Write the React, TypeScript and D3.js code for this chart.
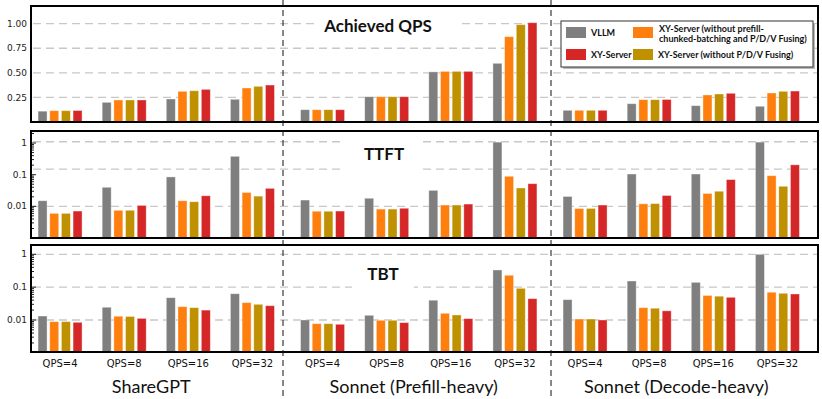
import React from "react";
import * as d3 from "d3";

const sections = ["ShareGPT", "Sonnet (Prefill-heavy)", "Sonnet (Decode-heavy)"];
const qpsLabels = ["QPS=4", "QPS=8", "QPS=16", "QPS=32"];
const seriesKeys = ["vllm", "noChunk", "noFuse", "xy"];
const seriesColors = ["#7f7f7f", "#ff7f0e", "#bf9000", "#d62728"];

// Achieved QPS (12 values: section-major, qps-minor)
const qpsVllm = [0.11, 0.2, 0.234, 0.231, 0.125, 0.257, 0.51, 0.597, 0.119, 0.186, 0.166, 0.16];
const qpsNoChunk = [0.115, 0.224, 0.312, 0.346, 0.125, 0.257, 0.515, 0.868, 0.119, 0.227, 0.275, 0.295];
const qpsNoFuse = [0.115, 0.224, 0.318, 0.363, 0.125, 0.257, 0.515, 0.99, 0.119, 0.227, 0.285, 0.312];
const qpsXy = [0.117, 0.224, 0.332, 0.376, 0.125, 0.257, 0.515, 1.01, 0.119, 0.229, 0.292, 0.315];

// TTFT
const ttftVllm = [0.015, 0.04, 0.085, 0.38, 0.0158, 0.018, 0.032, 1.07, 0.0205, 0.105, 0.105, 1.07];
const ttftNoChunk = [0.006, 0.0075, 0.015, 0.0274, 0.007, 0.0082, 0.011, 0.089, 0.0085, 0.012, 0.0255, 0.093];
const ttftNoFuse = [0.006, 0.0075, 0.014, 0.021, 0.007, 0.0082, 0.011, 0.038, 0.0086, 0.0122, 0.03, 0.043];
const ttftXy = [0.0071, 0.0107, 0.0216, 0.037, 0.0071, 0.0087, 0.0118, 0.052, 0.011, 0.022, 0.07, 0.205];

// TBT
const tbtVllm = [0.0132, 0.0244, 0.0477, 0.063, 0.01, 0.0139, 0.04, 0.333, 0.0416, 0.154, 0.14, 1.0];
const tbtNoChunk = [0.0089, 0.013, 0.0254, 0.0337, 0.0077, 0.0098, 0.016, 0.23, 0.0107, 0.0237, 0.056, 0.07];
const tbtNoFuse = [0.0089, 0.0128, 0.0237, 0.03, 0.0077, 0.0098, 0.0142, 0.092, 0.0107, 0.0228, 0.053, 0.065];
const tbtXy = [0.0085, 0.0112, 0.02, 0.0272, 0.0074, 0.0083, 0.011, 0.0446, 0.01, 0.019, 0.049, 0.062];

const linTicks = [0.25, 0.5, 0.75, 1.0];
const logTicks = [1, 0.1, 0.01];
const ttftGrid = [1.1, 0.15, 0.01];
const tbtGrid = [1, 0.1, 0.01];

const W = 822;
const H = 399;
const FL = 31;
const FR = 818;

const xSection = d3.scaleBand<string>().domain(sections).range([25, 812.5]);
const xGroup = d3.scaleBand<string>().domain(qpsLabels).range([3, 259.5]);
const xSeries = d3.scaleBand<string>().domain(seriesKeys).range([-22, 22]).paddingInner(0.23);

function groupCenter(i: number) {
  const s = sections[Math.floor(i / 4)];
  const q = qpsLabels[i % 4];
  return (xSection(s) as number) + (xGroup(q) as number) + xGroup.bandwidth() / 2;
}

const logMinor: number[] = [];
for (let e = -3; e <= 0; e++) {
  for (let m = 1; m <= 9; m++) logMinor.push(m * Math.pow(10, e));
}

type PanelDef = {
  top: number;
  bottom: number;
  log: boolean;
  domain: [number, number];
  series: number[][];
  grid: number[];
  ticks: number[];
  title: string;
  titleX: number;
  titleY: number;
  titleBox: [number, number, number, number];
};

const panels: PanelDef[] = [
  {
    top: 6, bottom: 122, log: false, domain: [0, 1.18],
    series: [qpsVllm, qpsNoChunk, qpsNoFuse, qpsXy],
    grid: linTicks, ticks: linTicks, title: "Achieved QPS", titleX: 378, titleY: 32,
    titleBox: [317, 14, 140, 20],
  },
  {
    top: 131, bottom: 238, log: true, domain: [0.001, 2.4],
    series: [ttftVllm, ttftNoChunk, ttftNoFuse, ttftXy],
    grid: ttftGrid, ticks: logTicks, title: "TTFT", titleX: 384, titleY: 160,
    titleBox: [345, 138, 78, 34],
  },
  {
    top: 245, bottom: 352, log: true, domain: [0.00106, 1.92],
    series: [tbtVllm, tbtNoChunk, tbtNoFuse, tbtXy],
    grid: tbtGrid, ticks: logTicks, title: "TBT", titleX: 383, titleY: 280,
    titleBox: [352, 262, 62, 28],
  },
];

const tickFont = "'DejaVu Sans', Verdana, sans-serif";
const labelFont = "Lato, 'Open Sans', sans-serif";

function Panel({ p }: { p: PanelDef }) {
  const y: any = p.log
    ? d3.scaleLog().domain(p.domain).range([p.bottom, p.top])
    : d3.scaleLinear().domain(p.domain).range([p.bottom, p.top]);
  const fmt = p.log ? (v: number) => String(v) : d3.format(".2f");
  return (
    <g>
      {p.grid.map((g, i) => (
        <line key={"g" + i} x1={FL + 2} x2={FR - 1} y1={y(g)} y2={y(g)}
          stroke="#c8c8c8" strokeWidth={1.3} strokeDasharray="8,5" />
      ))}
      <rect x={p.titleBox[0]} y={p.titleBox[1]} width={p.titleBox[2]} height={p.titleBox[3]} fill="#fff" />
      <text x={p.titleX} y={p.titleY} textAnchor="middle"
        fontFamily={labelFont} fontWeight="bold" fontSize={17} fill="#111">{p.title}</text>
      {p.series.map((vals, si) =>
        vals.map((v, i) => {
          const cx = groupCenter(i);
          const x = cx + (xSeries(seriesKeys[si]) as number);
          const yt = y(v);
          return (
            <rect key={si + "-" + i} x={x} y={yt} width={xSeries.bandwidth()} height={p.bottom - yt}
              fill={seriesColors[si]} stroke="#ffffff" strokeOpacity={0.45} strokeWidth={0.8} />
          );
        })
      )}
      {p.log &&
        logMinor
          .filter((v) => v >= p.domain[0] && v <= p.domain[1])
          .map((v, i) => {
            const major = Math.abs(Math.log10(v) - Math.round(Math.log10(v))) < 1e-9;
            return (
              <line key={"t" + i} x1={FL} x2={FL + (major ? 5 : 3)} y1={y(v)} y2={y(v)}
                stroke="#222" strokeWidth={1} />
            );
          })}
      {p.ticks.map((t, i) => (
        <text key={"l" + i} x={27} y={y(t)} dy="0.35em" textAnchor="end"
          fontFamily={tickFont} fontSize={9} fill="#222">{fmt(t)}</text>
      ))}
      <rect x={FL} y={p.top} width={FR - FL} height={p.bottom - p.top}
        fill="none" stroke="#000" strokeWidth={2} />
    </g>
  );
}

export default function App() {
  const legendItems = [
    { color: seriesColors[0], lines: ["VLLM"], x: 566, y: 27 },
    { color: seriesColors[1], lines: ["XY-Server (without prefill-", "chunked-batching and P/D/V Fusing)"], x: 633, y: 27 },
    { color: seriesColors[3], lines: ["XY-Server"], x: 566, y: 49 },
    { color: seriesColors[2], lines: ["XY-Server (without P/D/V Fusing)"], x: 633, y: 49 },
  ];
  return (
    <svg width={W} height={H} style={{ position: "absolute", left: 0, top: 0, background: "#fff" }}>
      <rect x={0} y={0} width={W} height={H} fill="#fff" />
      {panels.map((p, i) => (
        <Panel key={i} p={p} />
      ))}
      {[283, 551].map((x, i) => (
        <line key={"sep" + i} x1={x} x2={x} y1={0} y2={H} stroke="#111" strokeWidth={1} strokeDasharray="6,4" />
      ))}
      <rect x={563} y={23} width={252} height={46} fill="#bbb" />
      <rect x={561} y={21} width={252} height={46} fill="#fff" stroke="#333" strokeWidth={1} />
      {legendItems.map((it, i) => (
        <g key={"lg" + i}>
          <rect x={it.x} y={it.y} width={20} height={11} fill={it.color} />
          {it.lines.length === 1 ? (
            <text x={it.x + 25} y={it.y + 5.5} dy="0.35em" fontFamily={labelFont} fontWeight="bold"
              fontSize={9} fill="#111">{it.lines[0]}</text>
          ) : (
            it.lines.map((l, j) => (
              <text key={j} x={it.x + 26} y={it.y + 1.5 + j * 10} dy="0.35em" fontFamily={labelFont}
                fontWeight="bold" fontSize={9} fill="#111">{l}</text>
            ))
          )}
        </g>
      ))}
      {d3.range(12).map((i) => (
        <text key={"q" + i} x={groupCenter(i)} y={367} textAnchor="middle" fontFamily={tickFont}
          fontSize={10} fill="#111">{qpsLabels[i % 4]}</text>
      ))}
      {sections.map((s, i) => (
        <text key={"s" + i} x={(xSection(s) as number) + xSection.bandwidth() / 2 - 5} y={393}
          textAnchor="middle" fontFamily={labelFont} fontSize={18} fill="#111">{s}</text>
      ))}
    </svg>
  );
}
